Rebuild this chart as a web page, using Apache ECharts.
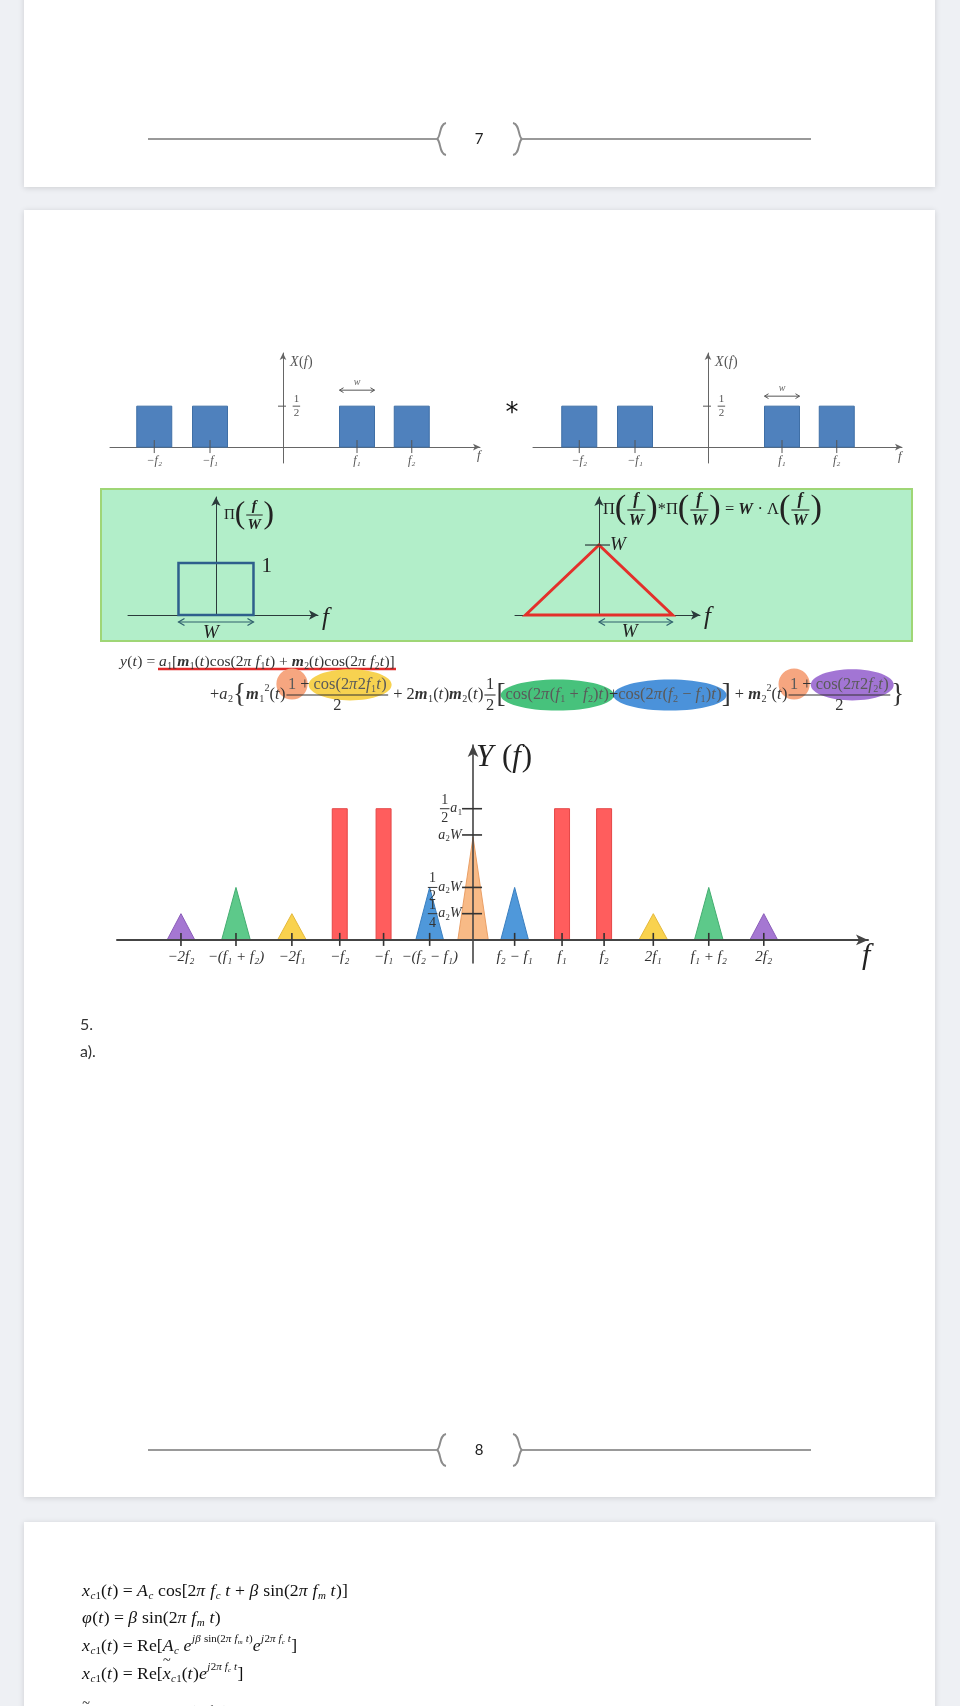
<!DOCTYPE html>
<html><head><meta charset="utf-8">
<script src="https://cdn.jsdelivr.net/npm/echarts@6/dist/echarts.min.js"></script>
<style>html,body{margin:0;padding:0;background:#eef0f4}#c{width:960px;height:1706px}</style>
</head><body><div id="c"></div><script>
// ================= DATA =================
// X(f): two identical band-pass spectra (drawn frequency units)
const xSpecCenters = [-5.15, -2.92, 2.96, 5.15];
const xSpecLabels  = ['−f₂', '−f₁', 'f₁', 'f₂'];
const xSpecHeight  = 0.5;
const xSpecWidth   = 1.4;
// Π(f/W)
const rectWidth  = 1;
const rectHeight = 1;
// W·Λ(f/W)
const triHalfBase = 1;
const triPeak     = 1;
// Y(f)
const yFreqValues = [-6.53, -5.3, -4.05, -2.98, -2.0, -0.97, 0.93, 1.99, 2.93, 4.03, 5.27, 6.5];
const yFreqLabels = ['−2f₂', '−(f₁ + f₂)', '−2f₁', '−f₂', '−f₁', '−(f₂ − f₁)', 'f₂ − f₁', 'f₁', 'f₂', '2f₁', 'f₁ + f₂', '2f₂'];
const redBarCenters = [-2.98, -2.0, 1.99, 2.93];
const redBarHeight  = 1.25;
const redBarWidth   = 0.335;
const triCenters    = [-6.53, -5.3, -4.05, -0.97, 0, 0.93, 4.03, 5.27, 6.5];
const triHeights    = [0.25, 0.5, 0.25, 0.5, 0.98, 0.5, 0.25, 0.5, 0.25];
const triHalfWidths = [0.31, 0.32, 0.32, 0.31, 0.34, 0.31, 0.32, 0.32, 0.31];
const triKinds      = ['sq2', 'sum', 'sq1', 'diff', 'dc', 'diff', 'sq1', 'sum', 'sq2'];
const yTickValues   = [1.25, 1, 0.5, 0.25];
const yTickLabels   = [String.raw`\f{1}{2}a_1`, 'a_2W', String.raw`\f{1}{2}a_2W`, String.raw`\f{1}{4}a_2W`];

// ================= STYLE =================
const SERIF = '"Liberation Serif","DejaVu Serif",serif';
const TRI_STYLE = {
  sq2:  {fill: '#a577d2', stroke: '#8a5cb9', opacity: 1},
  sum:  {fill: '#5dc98a', stroke: '#43ad70', opacity: 1},
  sq1:  {fill: '#f9d24e', stroke: '#e4b83a', opacity: 1},
  diff: {fill: '#4f98da', stroke: '#3a7fc0', opacity: 1},
  dc:   {fill: '#f7b47c', stroke: '#e89a5e', opacity: 0.92}
};

// ================= mini formula layout =================
const mctx = document.createElement('canvas').getContext('2d');
function measure(s, sz, it, bd) {
  mctx.font = (it ? 'italic ' : '') + (bd ? 'bold ' : '') + sz + 'px ' + SERIF;
  return mctx.measureText(s).width;
}
function parse(s, base) {
  const out = []; let i = 0;
  const readGroup = () => { let d = 0, st = i + 1; for (; i < s.length; i++) { if (s[i] === '{') d++; else if (s[i] === '}') { d--; if (!d) { const g = s.slice(st, i); i++; return g; } } } return s.slice(st); };
  const readArg = () => s[i] === '{' ? readGroup() : s[i++];
  while (i < s.length) {
    const c = s[i];
    if (c === '\\') {
      const cmd = s[i + 1]; i += 2;
      if (cmd === 'f') { const n = readArg(), d = readArg(); out.push({frac: [parse(n, base), parse(d, base)], size: base.size, color: base.color}); }
      else if (cmd === 'L' || cmd === 'M') { const ch = s[i++]; out.push({s: ch, size: base.size * (cmd === 'L' ? 1.65 : 2.1), color: base.color, dy: cmd === 'M' ? -base.size * 0.05 : 0}); }
      else if (cmd === 'H' || cmd === 'C') { const col = readArg(), inner = readArg(); out.push({group: parse(inner, Object.assign({}, base, {color: base.hlColor || base.color})), hl: col, circle: cmd === 'C', size: base.size}); }
      else if (cmd === 'b') { const inner = readArg(); out.push({group: parse(inner, Object.assign({}, base, {bold: true}))}); }
      else if (cmd === 't') { const inner = readArg(); out.push({group: parse(inner, base), tilde: true, size: base.size, color: base.color}); }
      continue;
    }
    if (c === '_' || c === '^') {
      i++; const a = readArg();
      out.push({group: parse(a, Object.assign({}, base, {size: base.size * 0.62})), dy: c === '_' ? base.size * 0.27 : -base.size * 0.38});
      continue;
    }
    let w = null;
    for (const k of ['cos', 'sin', 'Re']) if (s.startsWith(k, i)) { w = k; break; }
    if (w) { out.push({s: w, size: base.size, color: base.color, bold: base.bold}); i += w.length; continue; }
    out.push({s: c, size: base.size, color: base.color, bold: base.bold, italic: /[A-Za-zπβφ]/.test(c)});
    i++;
  }
  return out;
}
function layout(pcs, x, y, bg, fg) {
  for (const p of pcs) {
    if (p.frac) {
      const wn = layout(p.frac[0], 0, 0, null, null), wd = layout(p.frac[1], 0, 0, null, null);
      const pad = p.size * 0.15, w = Math.max(wn, wd) + 2 * pad;
      layout(p.frac[0], x + (w - wn) / 2, y - p.size * 0.62, bg, fg);
      layout(p.frac[1], x + (w - wd) / 2, y + p.size * 0.66, bg, fg);
      if (fg) fg.push({type: 'line', shape: {x1: x + pad * 0.4, y1: y, x2: x + w - pad * 0.4, y2: y}, style: {stroke: p.color, lineWidth: Math.max(1, p.size / 15)}});
      x += w; continue;
    }
    if (p.group) {
      const y2 = y + (p.dy || 0), x0 = x;
      x = layout(p.group, x, y2, bg, fg);
      const w = x - x0;
      if (p.hl && bg) {
        if (p.circle) bg.push({type: 'circle', shape: {cx: x0 + w / 2, cy: y2 - p.size * 0.05, r: p.size * 0.95}, style: {fill: p.hl}});
        else bg.push({type: 'ellipse', shape: {cx: x0 + w / 2, cy: y2, rx: w / 2 + p.size * 0.3, ry: p.size * 0.95}, style: {fill: p.hl}});
      }
      if (p.tilde && fg) fg.push({type: 'text', style: {text: '~', x: x0 + w / 2, y: y2 - p.size * 0.72, fontSize: p.size * 0.8, fontFamily: SERIF, fill: p.color, align: 'center', verticalAlign: 'middle'}});
      continue;
    }
    const w = measure(p.s, p.size, p.italic, p.bold);
    if (fg) fg.push({type: 'text', style: {text: p.s, x: x, y: y + (p.dy || 0), fontSize: p.size, fontStyle: p.italic ? 'italic' : 'normal', fontWeight: p.bold ? 'bold' : 'normal', fontFamily: SERIF, fill: p.color, align: 'left', verticalAlign: 'middle'}});
    x += w + (p.italic ? p.size * 0.03 : 0);
  }
  return x;
}
let lastSize = 0;
function fml(str, o) {
  let size = o.size;
  const mk = sz => parse(str, {size: sz, color: o.color || '#222', hlColor: o.hlColor});
  let pcs = mk(size), w = layout(pcs, 0, 0, null, null);
  if (o.fitTo) { size = size * o.fitTo / w; pcs = mk(size); w = layout(pcs, 0, 0, null, null); }
  lastSize = size;
  let x = o.x; if (o.align === 'right') x -= w; else if (o.align === 'center') x -= w / 2;
  const bg = [], fg = [];
  layout(pcs, x, o.y, bg, fg);
  bg.forEach(e => { e.z = 1; e.z2 = 1; }); fg.forEach(e => { e.z = 2; e.z2 = 2; });
  return bg.concat(fg);
}
function dblArrow(x1, x2, y, color, lw, head) {
  const st = {stroke: color, lineWidth: lw, fill: 'none'};
  return [
    {type: 'line', shape: {x1: x1, y1: y, x2: x2, y2: y}, style: Object.assign({}, st)},
    {type: 'polyline', shape: {points: [[x1 + head, y - head * 0.6], [x1, y], [x1 + head, y + head * 0.6]]}, style: Object.assign({}, st)},
    {type: 'polyline', shape: {points: [[x2 - head, y - head * 0.6], [x2, y], [x2 - head, y + head * 0.6]]}, style: Object.assign({}, st)}
  ];
}
function nearest(arr, v) { let b = 0; arr.forEach((a, i) => { if (Math.abs(a - v) < Math.abs(arr[b] - v)) b = i; }); return b; }

// ================= axes =================
function xAx(gi, min, max, o) {
  return {type: 'value', gridIndex: gi, min: min, max: max, z: o.z || 0,
    axisLine: {onZero: true, symbol: ['none', 'arrow'], symbolSize: o.arrow, lineStyle: {color: o.color, width: o.width}},
    axisTick: {show: false}, splitLine: {show: false},
    axisLabel: o.labels ? {show: true, customValues: o.values, formatter: v => o.labels[nearest(o.values, v)], margin: o.margin, color: o.labelColor, fontSize: o.fontSize, fontStyle: 'italic', fontFamily: SERIF} : {show: false}};
}
function yAx(gi, min, max, o) {
  return {type: 'value', gridIndex: gi, min: min, max: max, z: o.z || 0,
    axisLine: {onZero: true, symbol: ['none', 'arrow'], symbolSize: o.arrow, lineStyle: {color: o.color, width: o.width}},
    axisTick: {show: false}, splitLine: {show: false}, axisLabel: {show: false}};
}
const xAxis = [
  xAx(0, -6.92, 7.88, {arrow: [5, 7], color: '#666', width: 1, labels: xSpecLabels, values: xSpecCenters, margin: -8, labelColor: '#555', fontSize: 12}),
  xAx(1, -7.0, 7.76, {arrow: [5, 7], color: '#666', width: 1, labels: xSpecLabels, values: xSpecCenters, margin: -8, labelColor: '#555', fontSize: 12}),
  xAx(2, -1.173, 1.36, {arrow: [7, 9], color: '#2b3b3b', width: 1}),
  xAx(3, -1.143, 1.374, {arrow: [7, 9], color: '#2b3b3b', width: 1}),
  xAx(4, -7.96, 8.83, {arrow: [8, 12], color: '#444', width: 2, z: 6, labels: yFreqLabels, values: yFreqValues, margin: -13, labelColor: '#333', fontSize: 15})
];
const yAxis = [
  yAx(0, -0.195, 1.15, {arrow: [5, 7], color: '#666', width: 1}),
  yAx(1, -0.195, 1.15, {arrow: [5, 7], color: '#666', width: 1}),
  yAx(2, 0, 2.27, {arrow: [7, 9], color: '#2b3b3b', width: 1}),
  yAx(3, 0, 1.686, {arrow: [7, 9], color: '#2b3b3b', width: 1}),
  yAx(4, -0.22, 1.857, {arrow: [8, 12], color: '#444', width: 1.6, z: 6})
];

// ================= series =================
const S = [];
function rectRender(style) {
  return (params, api) => {
    const c = api.value(0), h = api.value(1), w = api.value(2);
    const p0 = api.coord([c - w / 2, h]), p1 = api.coord([c + w / 2, 0]);
    return {type: 'rect', shape: {x: p0[0], y: p0[1], width: p1[0] - p0[0], height: p1[1] - p0[1]}, style: Object.assign({}, style)};
  };
}
function xTickRender(up, down, color, lw) {
  return (params, api) => {
    const p = api.coord([api.value(0), 0]);
    return {type: 'line', shape: {x1: p[0], y1: p[1] - up, x2: p[0], y2: p[1] + down}, style: {stroke: color, lineWidth: lw}};
  };
}
[0, 1].forEach(g => {
  S.push({type: 'custom', xAxisIndex: g, yAxisIndex: g, silent: true, clip: false, z: 2,
    data: xSpecCenters.map(c => [c, xSpecHeight, xSpecWidth]),
    renderItem: rectRender({fill: '#4f81bd', stroke: '#3f6fa6', lineWidth: 1})});
  S.push({type: 'custom', xAxisIndex: g, yAxisIndex: g, silent: true, clip: false, z: 5,
    data: xSpecCenters.map(c => [c]), renderItem: xTickRender(7, 6, '#555', 1)});
  S.push({type: 'custom', xAxisIndex: g, yAxisIndex: g, silent: true, clip: false, z: 5,
    data: [[xSpecHeight]],
    renderItem: (params, api) => {
      const p = api.coord([0, api.value(0)]);
      return {type: 'group', children: [{type: 'line', shape: {x1: p[0] - 5, y1: p[1], x2: p[0] + 3, y2: p[1]}, style: {stroke: '#555', lineWidth: 1}}]
        .concat(fml(String.raw`\f{1}{2}`, {x: p[0] + 9, y: p[1], size: 11, color: '#555'}))};
    }});
  S.push({type: 'custom', xAxisIndex: g, yAxisIndex: g, silent: true, clip: false, z: 5,
    data: [[xSpecCenters[2], xSpecWidth, xSpecHeight]],
    renderItem: (params, api) => {
      const c = api.value(0), w = api.value(1), h = api.value(2);
      const a = api.coord([c - w / 2, h]), b = api.coord([c + w / 2, h]);
      const y = a[1] - (g === 0 ? 16 : 10);
      return {type: 'group', children: dblArrow(a[0], b[0], y, '#555', 1, 4).concat([
        {type: 'text', style: {text: 'w', x: (a[0] + b[0]) / 2, y: y - 8, fontSize: 10, fontStyle: 'italic', fontFamily: SERIF, fill: '#666', align: 'center', verticalAlign: 'middle'}}])};
    }});
});
// Π(f/W)
S.push({type: 'custom', xAxisIndex: 2, yAxisIndex: 2, silent: true, clip: false, z: 3,
  data: [[0, rectHeight, rectWidth]],
  renderItem: (params, api) => {
    const c = api.value(0), h = api.value(1), w = api.value(2);
    const p0 = api.coord([c - w / 2, h]), p1 = api.coord([c + w / 2, 0]);
    const ya = p1[1] + 7;
    return {type: 'group', children: [
      {type: 'rect', shape: {x: p0[0], y: p0[1], width: p1[0] - p0[0], height: p1[1] - p0[1]}, style: {fill: 'none', stroke: '#2e5f8c', lineWidth: 2.5}},
      {type: 'text', style: {text: '1', x: p1[0] + 8, y: p0[1] + 3, fontSize: 21, fontFamily: SERIF, fill: '#222', align: 'left', verticalAlign: 'middle'}},
      {type: 'text', style: {text: 'W', x: (p0[0] + p1[0]) / 2 - 5, y: ya + 11, fontSize: 19, fontStyle: 'italic', fontFamily: SERIF, fill: '#222', align: 'center', verticalAlign: 'middle'}}
    ].concat(dblArrow(p0[0], p1[0], ya, '#2e5f6c', 1.2, 6))};
  }});
// W·Λ(f/W)
S.push({type: 'custom', xAxisIndex: 3, yAxisIndex: 3, silent: true, clip: false, z: 3,
  data: [[triHalfBase, triPeak]],
  renderItem: (params, api) => {
    const b = api.value(0), h = api.value(1);
    const L = api.coord([-b, 0]), T = api.coord([0, h]), R = api.coord([b, 0]);
    const ya = L[1] + 7;
    return {type: 'group', children: [
      {type: 'polygon', shape: {points: [L, T, R]}, style: {fill: 'none', stroke: '#e3302b', lineWidth: 3}},
      {type: 'line', shape: {x1: T[0] - 14, y1: T[1], x2: T[0] + 11, y2: T[1]}, style: {stroke: '#2b3b3b', lineWidth: 1.2}},
      {type: 'text', style: {text: 'W', x: T[0] + 11, y: T[1], fontSize: 19, fontStyle: 'italic', fontFamily: SERIF, fill: '#222', align: 'left', verticalAlign: 'middle'}},
      {type: 'text', style: {text: 'W', x: (T[0] + R[0]) / 2 - 6, y: ya + 10, fontSize: 19, fontStyle: 'italic', fontFamily: SERIF, fill: '#222', align: 'center', verticalAlign: 'middle'}}
    ].concat(dblArrow(T[0], R[0], ya, '#2e5f6c', 1.2, 6))};
  }});
// Y(f): red bars
S.push({type: 'custom', xAxisIndex: 4, yAxisIndex: 4, silent: true, clip: false, z: 2,
  data: redBarCenters.map(c => [c, redBarHeight, redBarWidth]),
  renderItem: rectRender({fill: '#ff5d5d', stroke: '#e44747', lineWidth: 1})});
// Y(f): triangles
S.push({type: 'custom', xAxisIndex: 4, yAxisIndex: 4, silent: true, clip: false, z: 2,
  data: triCenters.map((c, i) => [c, triHeights[i], triHalfWidths[i]]),
  renderItem: (params, api) => {
    const c = api.value(0), h = api.value(1), hw = api.value(2);
    const st = TRI_STYLE[triKinds[params.dataIndex]];
    const L = api.coord([c - hw, 0]), T = api.coord([c, h]), R = api.coord([c + hw, 0]);
    return {type: 'polygon', shape: {points: [L, T, R]}, style: {fill: st.fill, stroke: st.stroke, lineWidth: 1, opacity: st.opacity}};
  }});
// Y(f): x ticks
S.push({type: 'custom', xAxisIndex: 4, yAxisIndex: 4, silent: true, clip: false, z: 7,
  data: yFreqValues.map(v => [v]), renderItem: xTickRender(7, 6, '#333', 1.6)});
// Y(f): y ticks and labels
S.push({type: 'custom', xAxisIndex: 4, yAxisIndex: 4, silent: true, clip: false, z: 7,
  data: yTickValues.map((v, i) => [v, i]),
  renderItem: (params, api) => {
    const p = api.coord([0, api.value(0)]);
    return {type: 'group', children: [{type: 'line', shape: {x1: p[0] - 11, y1: p[1], x2: p[0] + 9, y2: p[1]}, style: {stroke: '#333', lineWidth: 1.6}}]
      .concat(fml(yTickLabels[api.value(1)], {x: p[0] - 11, y: p[1], size: 14, color: '#333', align: 'right'}))};
  }});

// ================= page decoration =================
const G = [];
function card(x, y, w, h) { return {type: 'rect', z: -10, shape: {x: x, y: y, width: w, height: h}, style: {fill: '#ffffff', shadowBlur: 6, shadowColor: 'rgba(0,0,0,0.14)', shadowOffsetY: 1}}; }
G.push(card(24, -20, 911, 207), card(24, 210, 911, 1287), card(24, 1522, 911, 320));
function footer(y, num) {
  const st = {stroke: '#999', lineWidth: 2, fill: 'none'};
  const b = {stroke: '#8c8c8c', lineWidth: 2, fill: 'none'};
  G.push({type: 'line', shape: {x1: 148, y1: y, x2: 437, y2: y}, style: st});
  G.push({type: 'line', shape: {x1: 522, y1: y, x2: 811, y2: y}, style: st});
  G.push({type: 'bezierCurve', shape: {x1: 446, y1: y - 16, cpx1: 439, cpy1: y - 15, cpx2: 441, cpy2: y - 2, x2: 437, y2: y}, style: b});
  G.push({type: 'bezierCurve', shape: {x1: 446, y1: y + 16, cpx1: 439, cpy1: y + 15, cpx2: 441, cpy2: y + 2, x2: 437, y2: y}, style: b});
  G.push({type: 'bezierCurve', shape: {x1: 513, y1: y - 16, cpx1: 520, cpy1: y - 15, cpx2: 518, cpy2: y - 2, x2: 522, y2: y}, style: b});
  G.push({type: 'bezierCurve', shape: {x1: 513, y1: y + 16, cpx1: 520, cpy1: y + 15, cpx2: 518, cpy2: y + 2, x2: 522, y2: y}, style: b});
  G.push({type: 'text', style: {text: num, x: 479, y: y, fontSize: 15, fontFamily: 'Lato, "Noto Sans", sans-serif', fill: '#222', align: 'center', verticalAlign: 'middle'}});
}
footer(139, '7');
footer(1450, '8');
// green box
G.push({type: 'rect', z: -5, shape: {x: 101, y: 489, width: 811, height: 152}, style: {fill: '#b2eec9', stroke: '#9fd676', lineWidth: 2}});

const add = arr => arr.forEach(e => G.push(e));
// top spectra names
add(fml('X(f)', {x: 290, y: 362, size: 14, color: '#555'}));
add(fml('X(f)', {x: 715, y: 362, size: 14, color: '#555'}));
add(fml('f', {x: 477, y: 456, size: 13, color: '#555'}));
add(fml('f', {x: 898, y: 457, size: 13, color: '#555'}));
G.push({type: 'text', style: {text: '*', x: 512, y: 414, fontSize: 26, fontFamily: '"DejaVu Sans",sans-serif', fill: '#111', align: 'center', verticalAlign: 'middle'}});
// green box labels
add(fml(String.raw`Π\M(\f{\b{f}}{\b{W}}\M)`, {x: 224, y: 515, size: 15, color: '#222'}));
add(fml(String.raw`Π\M(\f{\b{f}}{\b{W}}\M)*Π\M(\f{\b{f}}{\b{W}}\M) = \b{W} · Λ\M(\f{\b{f}}{\b{W}}\M)`, {x: 603, y: 510, size: 15, color: '#222', fitTo: 219}));
add(fml('f', {x: 322, y: 618, size: 25, color: '#222'}));
add(fml('f', {x: 704, y: 617, size: 25, color: '#222'}));
// formula lines
add(fml(String.raw`y(t) = a_1[\b{m}_1(t)cos(2π f_1t) + \b{m}_2(t)cos(2π f_2t)]`, {x: 120, y: 662, size: 15, color: '#333', fitTo: 275}));
G.push({type: 'line', shape: {x1: 158, y1: 669, x2: 396, y2: 669}, style: {stroke: '#e02a2a', lineWidth: 2.5}});
add(fml(String.raw`+a_2\L{\b{m}_1^2(t)\f{\C{#f6a680}{1} + \H{#f7d250}{cos(2π2f_1t)}}{2} + 2\b{m}_1(t)\b{m}_2(t)\f{1}{2}\L[\H{#47c27c}{cos(2π(f_1 + f_2)t)}+\H{#4b92da}{cos(2π(f_2 − f_1)t)}\L] + \b{m}_2^2(t)\f{\C{#f6a680}{1} + \H{#a275d4}{cos(2π2f_2t)}}{2}\L}`,
  {x: 210, y: 695, size: 15, color: '#333', hlColor: '#5a5a5a', fitTo: 695}));
// Y(f) names
add(fml('Y (f)', {x: 476, y: 758, size: 31, color: '#222'}));
add(fml('f', {x: 862, y: 956, size: 30, color: '#222'}));
// section text
G.push({type: 'text', style: {text: '5.', x: 80, y: 1025, fontSize: 16, fontFamily: 'Lato, "Noto Sans", sans-serif', fill: '#333', align: 'left', verticalAlign: 'middle'}});
G.push({type: 'text', style: {text: 'a).', x: 80, y: 1052, fontSize: 16, fontFamily: 'Lato, "Noto Sans", sans-serif', fill: '#333', align: 'left', verticalAlign: 'middle'}});
// card 3 formulas
add(fml(String.raw`x_{c1}(t) = A_c cos[2π f_c t + β sin(2π f_m t)]`, {x: 82, y: 1591, size: 21, color: '#111', fitTo: 266}));
const s3 = lastSize;
add(fml(String.raw`φ(t) = β sin(2π f_m t)`, {x: 82, y: 1618, size: s3, color: '#111'}));
add(fml(String.raw`x_{c1}(t) = Re[A_c e^{jβ sin(2π f_m t)}e^{j2π f_c t}]`, {x: 82, y: 1646, size: s3, color: '#111'}));
add(fml(String.raw`x_{c1}(t) = Re[\t{x}_{c1}(t)e^{j2π f_c t}]`, {x: 82, y: 1674, size: s3, color: '#111'}));
add(fml(String.raw`\t{x}_{c1}(t) = A_c e^{jβ sin(2π f_m t)}`, {x: 82, y: 1717, size: s3, color: '#111'}));

const chart = echarts.init(document.getElementById('c'), null, {renderer: 'canvas', width: 960, height: 1706});
chart.setOption({
  backgroundColor: '#eef0f4',
  animation: false,
  grid: [
    {left: 110, top: 353, width: 370, height: 110, outerBoundsMode: 'none'},
    {left: 533, top: 353, width: 369, height: 110, outerBoundsMode: 'none'},
    {left: 128, top: 497, width: 190, height: 118, outerBoundsMode: 'none'},
    {left: 515, top: 497, width: 185, height: 118, outerBoundsMode: 'none'},
    {left: 117, top: 745, width: 751, height: 218, outerBoundsMode: 'none'}
  ],
  xAxis: xAxis,
  yAxis: yAxis,
  series: S,
  graphic: {elements: G}
});
</script></body></html>
